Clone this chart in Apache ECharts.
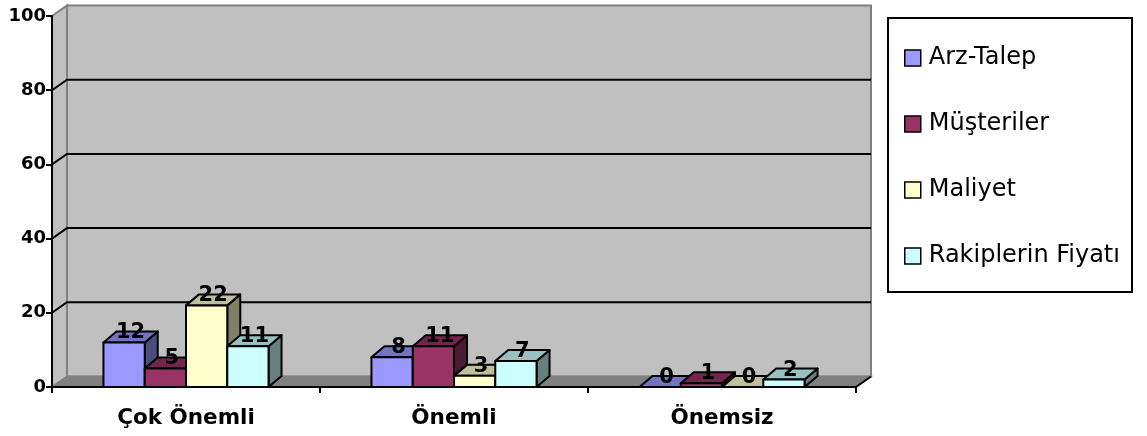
<!DOCTYPE html>
<html>
<head>
<meta charset="utf-8">
<script src="https://cdn.jsdelivr.net/npm/echarts@6/dist/echarts.min.js"></script>
<style>
  html, body { margin: 0; padding: 0; background: #ffffff; }
  #chart { width: 1147px; height: 436px; }
</style>
</head>
<body>
<div id="chart"></div>
<script>
// Categories, series values and axis ticks
const categories = ['Çok Önemli', 'Önemli', 'Önemsiz'];
const seriesNames = ['Arz-Talep', 'Müşteriler', 'Maliyet', 'Rakiplerin Fiyatı'];
const arzTalep = [12, 8, 0];
const musteriler = [5, 11, 1];
const maliyet = [22, 3, 0];
const rakiplerinFiyati = [11, 7, 2];
const yTicks = [0, 20, 40, 60, 80, 100];

const seriesValues = [arzTalep, musteriler, maliyet, rakiplerinFiyati];

// Face colours of each column: front, top, side
const frontColors = ['#9999FF', '#993366', '#FFFFCC', '#CCFFFF'];
const topColors   = ['#7373BF', '#73264D', '#BFBF99', '#99BFBF'];
const sideColors  = ['#4D4D80', '#4D1A33', '#808066', '#668080'];

// Pseudo-3D depth offsets (pixels)
const WALL_DX = 15, WALL_DY = -10.5;
const BAR_DX = 13, BAR_DY = -11;
const BAR_FRAC = 0.154;   // one column's share of a category band

const FONT = 'DejaVu Sans';

// Back wall, side wall, floor and gridlines
function renderWalls(params, api) {
  const cs = params.coordSys;
  const x0 = cs.x, x1 = cs.x + cs.width;
  const yTop = api.coord([0, yTicks[yTicks.length - 1]])[1];
  const yBase = api.coord([0, yTicks[0]])[1];
  const dx = WALL_DX, dy = WALL_DY;
  const wallStyle = { fill: '#C0C0C0', stroke: '#808080', lineWidth: 2 };
  const children = [
    { type: 'polygon', shape: { points: [[x0, yTop], [x0 + dx, yTop + dy], [x0 + dx, yBase + dy], [x0, yBase]] }, style: wallStyle },
    { type: 'rect', shape: { x: x0 + dx, y: yTop + dy, width: x1 - x0, height: yBase - yTop }, style: wallStyle },
    { type: 'polygon', shape: { points: [[x0, yBase], [x0 + dx, yBase + dy], [x1 + dx, yBase + dy], [x1, yBase]] }, style: { fill: '#808080', stroke: '#808080', lineWidth: 1.5 } }
  ];
  yTicks.forEach(function (v) {
    if (v === yTicks[0] || v === yTicks[yTicks.length - 1]) return;
    const y = api.coord([0, v])[1];
    children.push({ type: 'polyline', shape: { points: [[x0, y], [x0 + dx, y + dy], [x1 + dx, y + dy]] }, style: { stroke: '#000000', lineWidth: 2, fill: null } });
  });
  children.push({ type: 'line', shape: { x1: x1, y1: yBase, x2: x1 + dx, y2: yBase + dy }, style: { stroke: '#000000', lineWidth: 2 } });
  return { type: 'group', children: children };
}

// One 3D column: front face, top face, right side and its value label
function makeColumnRenderer(si) {
  return function (params, api) {
    const ci = api.value(0), v = api.value(1);
    const base = api.coord([ci, 0]);
    const top = api.coord([ci, v]);
    const band = api.size([1, 0])[0];
    const w = band * BAR_FRAC;
    const xl = base[0] - 2 * w + si * w, xr = xl + w;
    const yb = base[1], yt = top[1];
    const edge = { stroke: '#000000', lineWidth: 2, lineJoin: 'round' };
    return {
      type: 'group',
      children: [
        { type: 'polygon', shape: { points: [[xr, yt], [xr + BAR_DX, yt + BAR_DY], [xr + BAR_DX, yb + BAR_DY], [xr, yb]] },
          style: Object.assign({ fill: sideColors[si] }, edge) },
        { type: 'polygon', shape: { points: [[xl, yt], [xl + BAR_DX, yt + BAR_DY], [xr + BAR_DX, yt + BAR_DY], [xr, yt]] },
          style: Object.assign({ fill: topColors[si] }, edge) },
        { type: 'rect', shape: { x: xl, y: yt, width: w, height: yb - yt },
          style: Object.assign({ fill: frontColors[si] }, edge) },
        { type: 'text', z2: 100,
          style: { text: String(v), x: (xl + xr) / 2 + BAR_DX / 2, y: yt + BAR_DY / 2 - 4,
                   align: 'center', verticalAlign: 'middle', fill: '#000000',
                   font: 'bold 21px "' + FONT + '"' } }
      ]
    };
  };
}

const series = [{
  type: 'custom',
  name: 'walls',
  z: 1,
  silent: true,
  renderItem: renderWalls,
  data: [[0, 0]],
  encode: { x: 0, y: 1 }
}];
seriesValues.forEach(function (vals, si) {
  series.push({
    type: 'custom',
    name: seriesNames[si],
    z: 2,
    itemStyle: { color: frontColors[si] },
    renderItem: makeColumnRenderer(si),
    data: vals.map(function (v, i) { return [i, v]; }),
    encode: { x: 0, y: 1 }
  });
});

const chart = echarts.init(document.getElementById('chart'), null, { renderer: 'canvas' });
chart.setOption({
  animation: false,
  backgroundColor: '#ffffff',
  grid: { left: 52, right: 291, top: 16, bottom: 49, containLabel: false, outerBoundsMode: 'none' },
  xAxis: {
    type: 'category',
    data: categories,
    z: 10,
    boundaryGap: true,
    axisLine: { show: true, lineStyle: { color: '#000000', width: 2 } },
    axisTick: { show: true, length: 6, inside: false, lineStyle: { color: '#000000', width: 2 } },
    axisLabel: { interval: 0, margin: 20, color: '#000000', fontFamily: FONT, fontWeight: 'bold', fontSize: 21.5 },
    splitLine: { show: false }
  },
  yAxis: {
    type: 'value',
    min: 0, max: 100, interval: 20,
    z: 10,
    axisLine: { show: true, lineStyle: { color: '#000000', width: 2 } },
    axisTick: { show: true, length: 6, lineStyle: { color: '#000000', width: 2 } },
    axisLabel: { margin: 6, color: '#000000', fontFamily: FONT, fontWeight: 'bold', fontSize: 18 },
    splitLine: { show: false }
  },
  legend: {
    data: seriesNames,
    orient: 'vertical',
    left: 904,
    top: 45,
    padding: 0,
    itemGap: 40,
    itemWidth: 16,
    itemHeight: 16,
    icon: 'rect',
    selectedMode: false,
    itemStyle: { borderColor: '#000000', borderWidth: 1.5 },
    textStyle: { color: '#000000', fontFamily: FONT, fontSize: 24, lineHeight: 26, padding: [0, 0, 0, 3] }
  },
  graphic: [{
    type: 'rect',
    z: -1,
    shape: { x: 888, y: 18, width: 244, height: 274 },
    style: { fill: '#ffffff', stroke: '#000000', lineWidth: 2 }
  }],
  series: series
});
</script>
</body>
</html>
